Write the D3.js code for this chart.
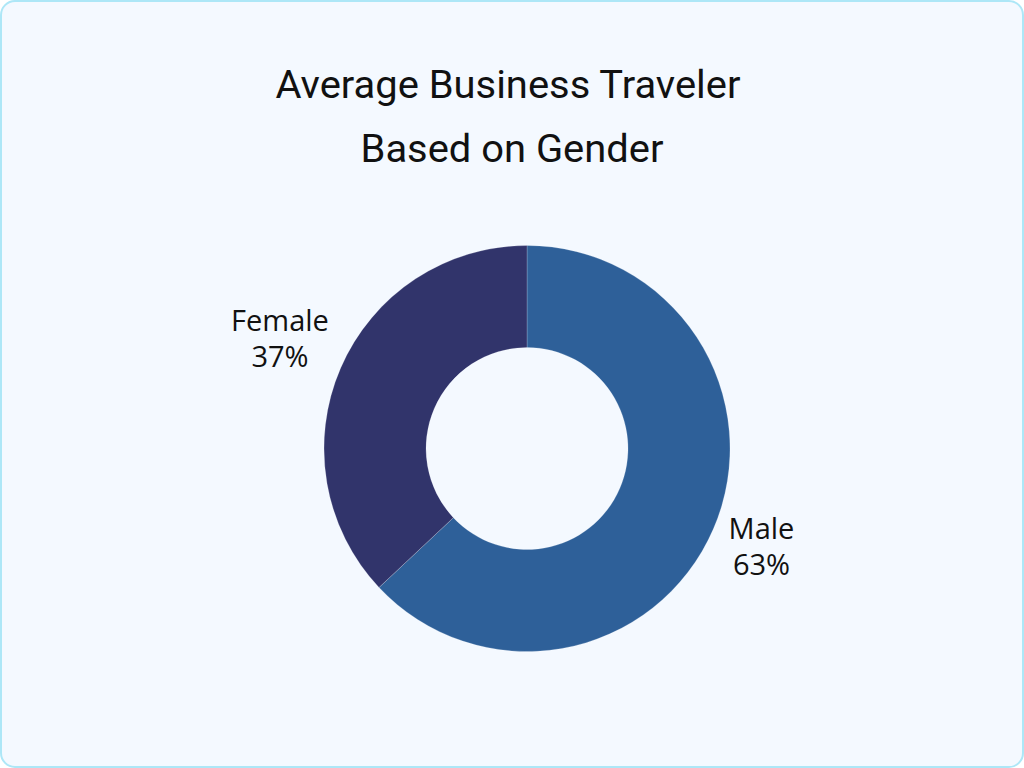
<!DOCTYPE html>
<html><head><meta charset="utf-8">
<script src="https://cdn.jsdelivr.net/npm/d3@7"></script>
<style>
html,body{margin:0;padding:0;background:#ffffff;}
svg{display:block;}
</style></head>
<body>
<svg id="chart" width="1024" height="768"></svg>
<script>
const titleLines = ["Average Business Traveler", "Based on Gender"];
const categories = ["Male", "Female"];
const values = [63, 37];
const colors = ["#2e6099", "#31346b"];

const svg = d3.select("#chart");
svg.append("rect").attr("x", 1).attr("y", 1).attr("width", 1022).attr("height", 766)
  .attr("rx", 14).attr("fill", "#f4f9ff").attr("stroke", "#ade7f7").attr("stroke-width", 2);

const titleFont = "Roboto, 'DejaVu Sans', sans-serif";
const titleCenters = [508, 512];
const titleBase = [98, 162];
const texts = titleLines.map((t, i) => {
  const node = svg.append("text").attr("x", 0).attr("y", 0)
    .attr("text-anchor", "middle").attr("font-family", titleFont)
    .attr("font-size", 38).attr("fill", "#111").text(t);
  return node;
});
// horizontal compression so line 1 spans ~465px
const w0 = texts[0].node().getComputedTextLength();
const sx = 465 / w0;
texts.forEach((n, i) => n.attr("transform", `translate(${titleCenters[i]},${titleBase[i]}) scale(${sx},1)`));

const cx = 527, cy = 448.5, R = 203, r = 101;
const pie = d3.pie().sort(null).value(d => d.v);
const data = categories.map((c, i) => ({c, v: values[i], col: colors[i]}));
const arcs = pie(data);
const arc = d3.arc().innerRadius(r).outerRadius(R);
const g = svg.append("g").attr("transform", `translate(${cx},${cy})`);
g.selectAll("path").data(arcs).enter().append("path")
  .attr("d", arc).attr("fill", d => d.data.col)
  .attr("stroke", "rgba(255,255,255,0.25)").attr("stroke-width", 0.8);

const labelPos = {Male: [761.5, 539], Female: [280, 331]};
arcs.forEach(a => {
  const [lx, ly] = labelPos[a.data.c];
  const t = svg.append("text").attr("text-anchor", "middle")
    .attr("font-family", "'Open Sans', 'Noto Sans', sans-serif")
    .attr("font-size", 29).attr("fill", "#111");
  t.append("tspan").attr("x", lx).attr("y", ly).text(a.data.c);
  t.append("tspan").attr("x", lx).attr("y", ly + 36).text(a.data.v + "%");
});
</script>
</body></html>
